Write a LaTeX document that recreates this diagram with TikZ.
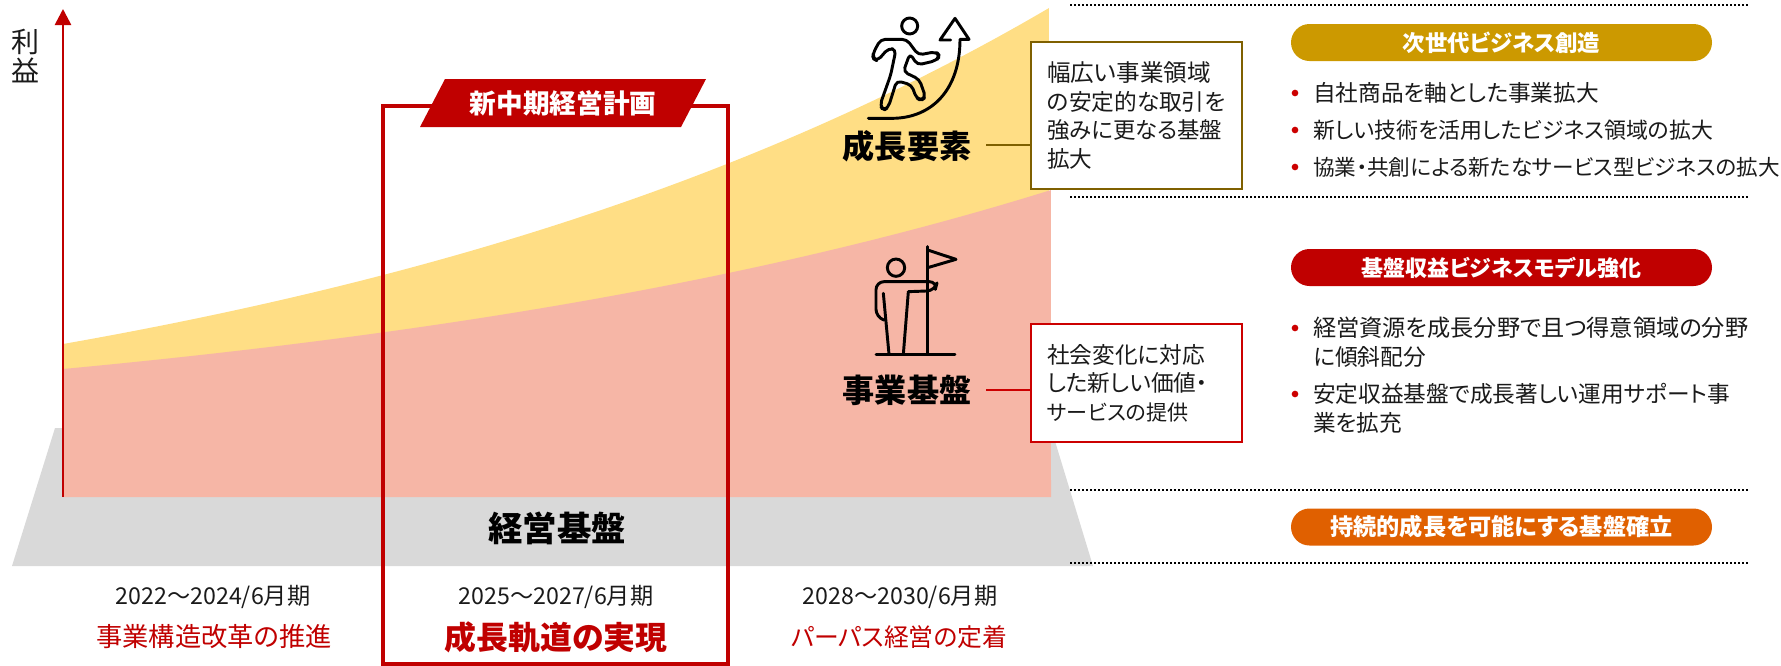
\documentclass[tikz,border=0pt]{standalone}
\usepackage{fontspec}
\setmainfont[RawFeature=+palt]{Noto Sans CJK JP}
\definecolor{cred}{HTML}{C00000}
\definecolor{bright}{HTML}{CC0000}
\definecolor{gold}{HTML}{CC9900}
\definecolor{orng}{HTML}{E06000}
\definecolor{brown}{HTML}{7F6000}
\definecolor{yel}{HTML}{FFDE85}
\definecolor{pnk}{HTML}{F6B6A6}
\definecolor{gry}{HTML}{D9D9D9}
\definecolor{ink}{HTML}{1A1A1A}
\tikzset{
 txt/.style={inner sep=0pt,text=ink,font=\fontsize{21}{25}\selectfont},
 head/.style={inner sep=0pt,text=black,font=\fontsize{24.1}{28}\bfseries\selectfont},
 years/.style={inner sep=0pt,text=ink,font=\fontsize{17.4}{21}\selectfont},
 redlab/.style={inner sep=0pt,text=cred,font=\fontsize{19.7}{23}\selectfont},
 note/.style={draw,line width=1pt,fill=white,minimum width=158.25pt,text width=134pt,align=left,inner xsep=12pt,inner ysep=0pt,text=ink,font=\fontsize{17}{21.4}\selectfont},
 pill/.style={rounded rectangle,minimum width=315.75pt,minimum height=27.75pt,inner sep=0pt,text=white,font=\fontsize{16.8}{20}\bfseries\selectfont},
 bul/.style={circle,fill=bright,inner sep=0pt,minimum size=5pt},
 item/.style={anchor=west,inner sep=0pt,text=ink,font=\fontsize{17}{21}\selectfont},
 dots/.style={black,line width=1.5pt,dash pattern=on 1.5pt off 1.5pt},
 icon/.style={line width=2.2pt,black,line cap=round,line join=round},
}
\usetikzlibrary{shapes.misc,arrows.meta}
\begin{document}
\begin{tikzpicture}[x=0.75pt,y=-0.75pt]
\useasboundingbox (0,0) rectangle (1781,665);
% base
\fill[gry] (55,428) -- (1051,428) -- (1093,566) -- (12,566) -- cycle;
% growth bands
\fill[yel] plot[domain=0:1,samples=40,smooth] ({63+986*\x},{344-336*(exp(1.2*\x)-1)/2.3201}) -- (1049,300) -- (63,400) -- cycle;
\fill[pnk] plot[domain=0:1,samples=40,smooth] ({63+988*\x},{369-179*(exp(1.2*\x)-1)/2.3201}) -- (1051,497) -- (63,497) -- cycle;
% axis
\coordinate (axisbot) at (63,497);
\coordinate (axistop) at (63,9);
\draw[cred,line width=2pt,-{Triangle[length=12pt,width=12pt]}] (axisbot) -- (axistop);
\node[txt] (lab1) at (26,42) {利};
\node[txt] (lab2) at (26,70) {益};
% frame
\node[draw=cred,line width=2.6pt,minimum width=258.75pt,minimum height=418.5pt,inner sep=0pt] (frame) at (555.5,385) {};
\fill[cred] (445,79) -- (706,79) -- (681,127) -- (420,127) -- cycle;
\node[inner sep=0pt,text=white,font=\fontsize{20}{24}\bfseries\selectfont] (plan) at (563,103) {新中期経営計画};
% base label
\node[head,font=\fontsize{25.8}{30}\bfseries\selectfont] (base) at (557,528) {経営基盤};
% years
\node[years] (y1) at (213,597) {2022～2024/6月期};
\node[years] (y2) at (556,597) {2025～2027/6月期};
\node[years] (y3) at (900,597) {2028～2030/6月期};
\node[redlab] (r1) at (214,637) {事業構造改革の推進};
\node[redlab,font=\fontsize{23.9}{28}\bfseries\selectfont] (r2) at (556,637) {成長軌道の実現};
\node[redlab,font=\fontsize{18.6}{22}\selectfont] (r3) at (899,637) {パーパス経営の定着};
% dotted separators
\coordinate (d1a) at (1070,5); \coordinate (d1b) at (1748,5);
\coordinate (d2a) at (1070,197); \coordinate (d2b) at (1748,197);
\coordinate (d3a) at (1070,490); \coordinate (d3b) at (1748,490);
\coordinate (d4a) at (1070,563); \coordinate (d4b) at (1748,563);
\draw[dots] (d1a) -- (d1b);
\draw[dots] (d2a) -- (d2b);
\draw[dots] (d3a) -- (d3b);
\draw[dots] (d4a) -- (d4b);
% headings and notes
\node[head] (grow) at (907,146) {成長要素};
\node[head] (biz) at (907,390) {事業基盤};
\node[note,draw=brown,minimum height=110.25pt] (n1) at (1136.5,115.5) {{\fontsize{17.7}{21.4}\selectfont 幅広い事業領域}\\の安定的な取引を\\{\fontsize{16.8}{21.4}\selectfont 強みに更なる基盤}\\拡大};
\node[note,draw=bright,minimum height=88.5pt] (n2) at (1136.5,383) {社会変化に対応\\した新しい価値・\\{\fontsize{15.8}{21.4}\selectfont サービスの提供}};
\coordinate (g1) at (986,145);
\coordinate (b1) at (986,390);
\draw[brown,line width=1pt] (g1) -- (g1-|n1.west);
\draw[bright,line width=1pt] (b1) -- (b1-|n2.west);
% pills
\node[pill,fill=gold] (p1) at (1501.5,42.5) {次世代ビジネス創造};
\node[pill,fill=cred,font=\fontsize{16.5}{20}\bfseries\selectfont] (p2) at (1501.5,267.5) {基盤収益ビジネスモデル強化};
\node[pill,fill=orng,font=\fontsize{17.4}{21}\bfseries\selectfont] (p3) at (1501.5,527) {持続的成長を可能にする基盤確立};
% bullets
\node[bul] (b01) at (1295,93) {}; \node[item] (t01) at (1313,93) {自社商品を軸とした事業拡大};
\node[bul] (b02) at (1295,130) {}; \node[item,font=\fontsize{16.45}{21}\selectfont] (t02) at (1313,130) {新しい技術を活用したビジネス領域の拡大};
\node[bul] (b03) at (1295,167) {}; \node[item,font=\fontsize{16.2}{21}\selectfont] (t03) at (1313,167) {協業・共創による新たなサービス型ビジネスの拡大};
\node[bul] (b04) at (1295,328) {}; \node[item,font=\fontsize{17.4}{21}\selectfont] (t04) at (1313,328) {経営資源を成長分野で且つ得意領域の分野};
\node[item] (t05) at (1313,357) {に傾斜配分};
\node[bul] (b06) at (1295,394) {}; \node[item] (t06) at (1313,394) {安定収益基盤で成長著しい運用サポート事};
\node[item] (t07) at (1313,423) {業を拡充};
% runner icon
\begin{scope}[shift={(860,10)},x=0.25pt,y=-0.25pt]
\draw[icon] (149,48) circle (24);
\draw[icon,rounded corners=3.5pt] (62,88) -- (140,88) -- (175,135) -- (228,125) -- (240,138) -- (228,152) -- (172,165) -- (150,130) -- (130,185) -- (178,208) -- (197,262) -- (182,272) -- (168,262) -- (155,225) -- (110,212) -- (85,292) -- (70,302) -- (60,285) -- (92,195) -- (108,118) -- (85,115) -- (52,153) -- (38,145) -- (40,128) -- cycle;
\draw[icon] (25,325) -- (95,325) .. controls (215,325) and (300,240) .. (300,88) -- (327,88) -- (285,25) -- (240,90) -- (272,90);
\end{scope}
% flag icon
\begin{scope}[shift={(820,230)},x=0.25pt,y=-0.25pt]
\draw[icon] (228,113) circle (26);
\draw[icon] (168,373) -- (405,373);
\draw[icon] (323,50) -- (323,373);
\draw[icon] (323,60) -- (408,88) -- (323,113);
\draw[icon] (190,190) -- (207,373);
\draw[icon] (265,185) -- (250,373);
\draw[icon,rounded corners=6pt] (192,270) -- (168,262) -- (168,155) -- (352,155) -- (345,182) -- (265,185);
\end{scope}
\end{tikzpicture}
\end{document}
